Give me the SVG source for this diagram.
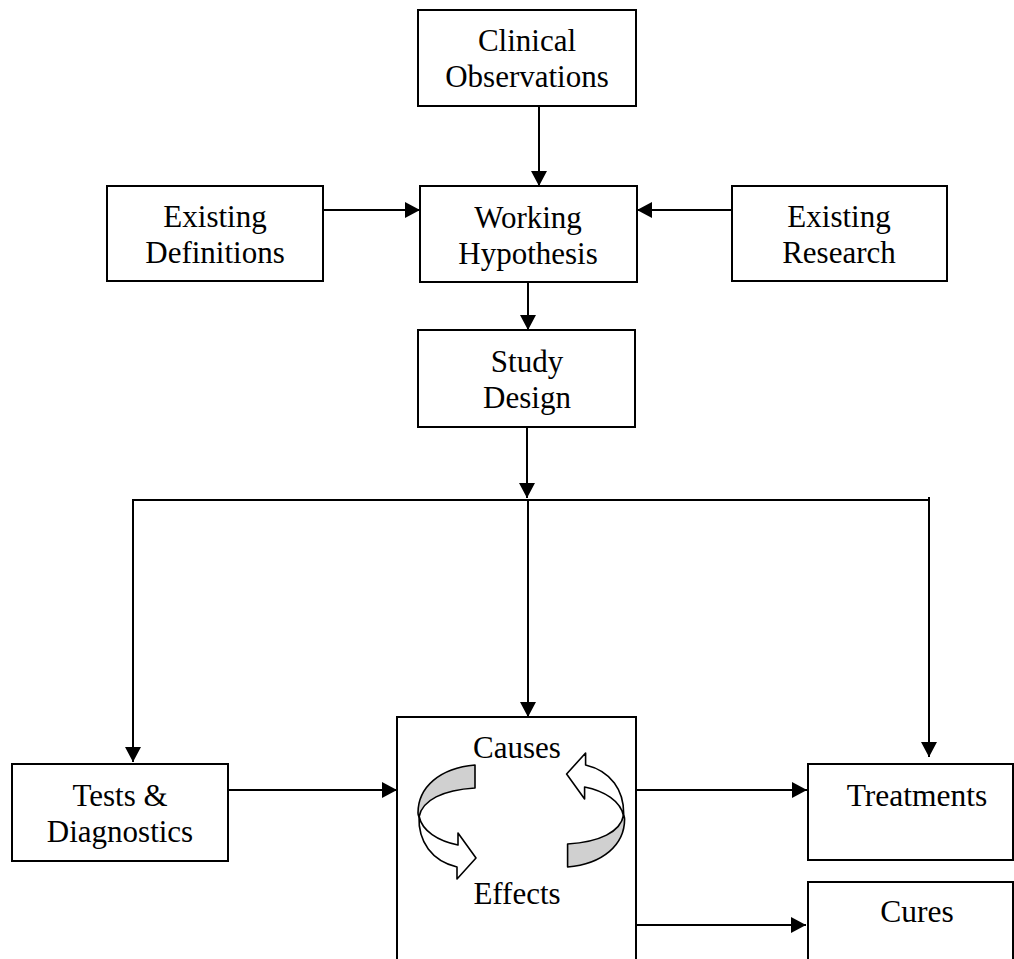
<svg xmlns="http://www.w3.org/2000/svg" width="1014" height="959" viewBox="0 0 1014 959">
<style>
.box{fill:#fff;stroke:#000;stroke-width:2}
.t{font-family:"Liberation Serif","Times New Roman",serif;font-size:31px;fill:#000;text-anchor:middle}
.ts{font-family:"Liberation Serif","Times New Roman",serif;font-size:31.5px;fill:#000;text-anchor:middle}
.c{fill:none;stroke:#000;stroke-width:2}
.ca{fill:none;stroke:#000;stroke-width:2;marker-end:url(#ah)}
.rib{stroke:#000;stroke-width:1.6;stroke-linejoin:round}
</style>
<defs>
<marker id="ah" markerUnits="userSpaceOnUse" markerWidth="16" markerHeight="16" viewBox="0 0 16 16" refX="15" refY="8" orient="auto">
<path d="M0,0 L15,8 L0,16 Z" fill="#000"/>
</marker>
<g id="curl">
<path class="rib" fill="#d0d0d0" d="M475,765 L475,788 C443,790 422,800 419,817 C418,815 418,814 418,813 C418,787 440,768 475,765 Z"/>
<path class="rib" fill="#fff" d="M419,816 C422,831 438,841 458,845 L458,833 L476,858 L457,879 L457,867 C432,861 418,842 419,816 Z"/>
</g>
</defs>
<rect width="1014" height="959" fill="#fff"/>
<g id="connectors">
<line class="ca" x1="539" y1="106" x2="539" y2="186"/>
<line class="ca" x1="323" y1="210" x2="420" y2="210"/>
<line class="ca" x1="732" y1="210" x2="637" y2="210"/>
<line class="ca" x1="528" y1="282" x2="528" y2="330"/>
<line class="ca" x1="527" y1="427" x2="527" y2="498"/>
<polyline class="c" points="133,760 133,500 929,500"/>
<line class="ca" x1="133" y1="500" x2="133" y2="762"/>
<line class="ca" x1="528" y1="500" x2="528" y2="717"/>
<line class="ca" x1="929" y1="497" x2="929" y2="757"/>
<line class="ca" x1="228" y1="790" x2="397" y2="790"/>
<line class="ca" x1="636" y1="790" x2="807" y2="790"/>
<line class="ca" x1="636" y1="925" x2="806" y2="925"/>
</g>
<g id="clinical">
<rect class="box" x="418" y="10" width="218" height="96"/>
<text class="t" x="527" y="51">Clinical</text>
<text class="t" x="527" y="87">Observations</text>
</g>
<g id="definitions">
<rect class="box" x="107" y="186" width="216" height="95"/>
<text class="t" x="215" y="227">Existing</text>
<text class="t" x="215" y="263">Definitions</text>
</g>
<g id="hypothesis">
<rect class="box" x="420" y="186" width="217" height="96"/>
<text class="t" x="528" y="228">Working</text>
<text class="t" x="528" y="264">Hypothesis</text>
</g>
<g id="research">
<rect class="box" x="732" y="186" width="215" height="95"/>
<text class="t" x="839" y="227">Existing</text>
<text class="t" x="839" y="263">Research</text>
</g>
<g id="study">
<rect class="box" x="418" y="330" width="217" height="97"/>
<text class="t" x="527" y="372">Study</text>
<text class="t" x="527" y="408">Design</text>
</g>
<g id="tests">
<rect class="box" x="12" y="764" width="216" height="97"/>
<text class="t" x="120" y="806">Tests &amp;</text>
<text class="t" x="120" y="842">Diagnostics</text>
</g>
<g id="causes">
<rect class="box" x="397" y="717" width="239" height="260"/>
<text class="t" x="517" y="758">Causes</text>
<text class="t" x="517" y="904">Effects</text>
<use href="#curl"/>
<use href="#curl" transform="rotate(180 521.3 816)"/>
</g>
<g id="treatments">
<rect class="box" x="808" y="764" width="205" height="96"/>
<text class="ts" x="917" y="806">Treatments</text>
</g>
<g id="cures">
<rect class="box" x="808" y="882" width="205" height="95"/>
<text class="ts" x="917" y="922">Cures</text>
</g>
</svg>
